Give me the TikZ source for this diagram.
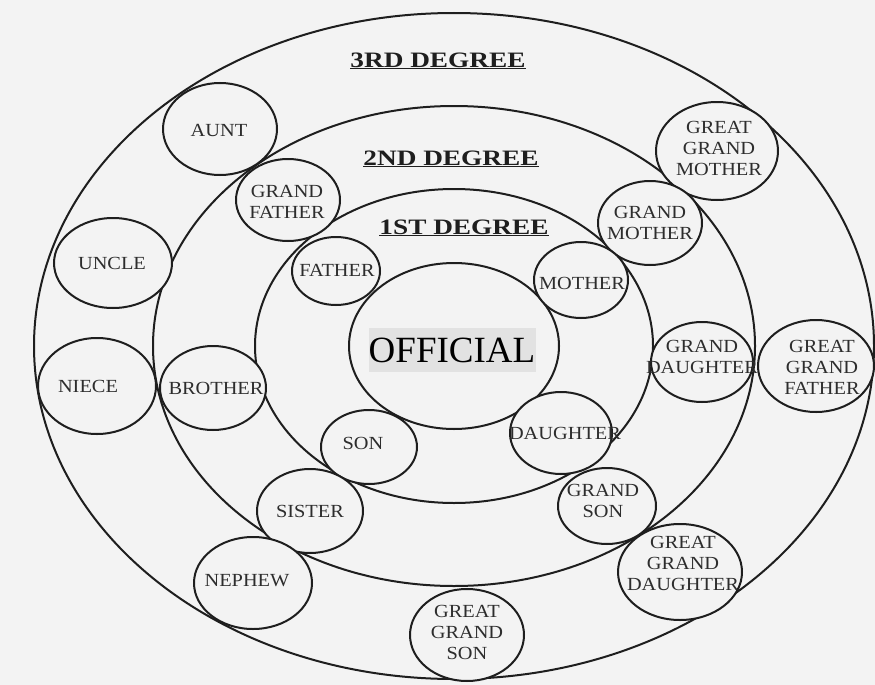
\documentclass[tikz,border=0pt]{standalone}
\usepackage{fontspec}
\setmainfont{Liberation Serif}
\newfontfamily\lblfont[FakeStretch=1.1]{Liberation Serif}
\newfontfamily\degfont[FakeStretch=1.24]{Liberation Serif}
\usetikzlibrary{shapes.geometric}
\definecolor{paper}{RGB}{243,243,243}
\definecolor{ink}{RGB}{30,30,30}
\definecolor{lblgray}{RGB}{45,45,45}
\definecolor{boxgray}{RGB}{226,226,226}
\begin{document}
\begin{tikzpicture}[x=1pt,y=-1pt,
  ring/.style={draw=ink,line width=2pt},
  bub/.style={ellipse,draw=ink,fill=paper,line width=2pt,inner sep=0pt},
  lbl/.style={text=lblgray,align=center,inner sep=0pt,font=\lblfont\fontsize{18.5}{21}\selectfont},
  degree/.style={text=ink,anchor=base,inner sep=0pt,font=\degfont\bfseries\fontsize{22}{24}\selectfont}]
	\useasboundingbox (0,0) rectangle (875,685);
	\fill[paper] (0,0) rectangle (875,685);
	\coordinate (c) at (454,346);
	\draw[ring] (c) ellipse [x radius=420pt, y radius=333pt];
	\draw[ring] (c) ellipse [x radius=301pt, y radius=240pt];
	\draw[ring] (c) ellipse [x radius=199pt, y radius=157pt];
	\draw[ring] (c) ellipse [x radius=105pt, y radius=83pt];
	\node[degree] (deg3) at (438,67) {\underline{3RD DEGREE}};
	\node[degree] (deg2) at (451,165) {\underline{2ND DEGREE}};
	\node[degree] (deg1) at (464,234) {\underline{1ST DEGREE}};
	\node[fill=boxgray,minimum width=167pt,minimum height=44pt,inner sep=0pt,
	  font=\fontsize{37}{40}\selectfont] (official) at (452,350) {OFFICIAL};
	\node[bub,minimum width=114pt,minimum height=92pt] (aunt) at (220,129) {};
	\node[bub,minimum width=104pt,minimum height=82pt] (gfather) at (288,200) {};
	\node[bub,minimum width=118pt,minimum height=90pt] (uncle) at (113,263) {};
	\node[bub,minimum width=88pt,minimum height=68pt] (father) at (336,271) {};
	\node[bub,minimum width=118pt,minimum height=96pt] (niece) at (97,386) {};
	\node[bub,minimum width=106pt,minimum height=84pt] (brother) at (213,388) {};
	\node[bub,minimum width=96pt,minimum height=74pt] (son) at (369,447) {};
	\node[bub,minimum width=106pt,minimum height=84pt] (sister) at (310,511) {};
	\node[bub,minimum width=118pt,minimum height=92pt] (nephew) at (253,583) {};
	\node[bub,minimum width=114pt,minimum height=92pt] (ggson) at (467,635) {};
	\node[bub,minimum width=102pt,minimum height=82pt] (daughter) at (561,433) {};
	\node[bub,minimum width=98pt,minimum height=76pt] (gson) at (607,506) {};
	\node[bub,minimum width=124pt,minimum height=96pt] (ggdaughter) at (680,572) {};
	\node[bub,minimum width=102pt,minimum height=80pt] (gdaughter) at (702,362) {};
	\node[bub,minimum width=116pt,minimum height=92pt] (ggfather) at (816,366) {};
	\node[bub,minimum width=122pt,minimum height=98pt] (ggmother) at (717,151) {};
	\node[bub,minimum width=104pt,minimum height=84pt] (gmother) at (650,223) {};
	\node[bub,minimum width=94pt,minimum height=76pt] (mother) at (581,280) {};
	\node[lbl] (t-aunt) at (219,130) {AUNT};
	\node[lbl] (t-gfather) at (287,202) {GRAND\\FATHER};
	\node[lbl] (t-uncle) at (112,263) {UNCLE};
	\node[lbl] (t-father) at (337,270) {FATHER};
	\node[lbl] (t-niece) at (88,386) {NIECE};
	\node[lbl] (t-brother) at (216,388) {BROTHER};
	\node[lbl] (t-son) at (363,443) {SON};
	\node[lbl] (t-sister) at (310,511) {SISTER};
	\node[lbl] (t-nephew) at (247,581) {NEPHEW};
	\node[lbl] (t-ggson) at (467,632) {GREAT\\GRAND\\SON};
	\node[lbl] (t-daughter) at (565,433) {DAUGHTER};
	\node[lbl] (t-gson) at (603,501) {GRAND\\SON};
	\node[lbl] (t-ggdaughter) at (683,563) {GREAT\\GRAND\\DAUGHTER};
	\node[lbl] (t-gdaughter) at (702,357) {GRAND\\DAUGHTER};
	\node[lbl] (t-ggfather) at (822,367) {GREAT\\GRAND\\FATHER};
	\node[lbl] (t-ggmother) at (719,148) {GREAT\\GRAND\\MOTHER};
	\node[lbl] (t-gmother) at (650,223) {GRAND\\MOTHER};
	\node[lbl] (t-mother) at (582,283) {MOTHER};
\end{tikzpicture}
\end{document}
